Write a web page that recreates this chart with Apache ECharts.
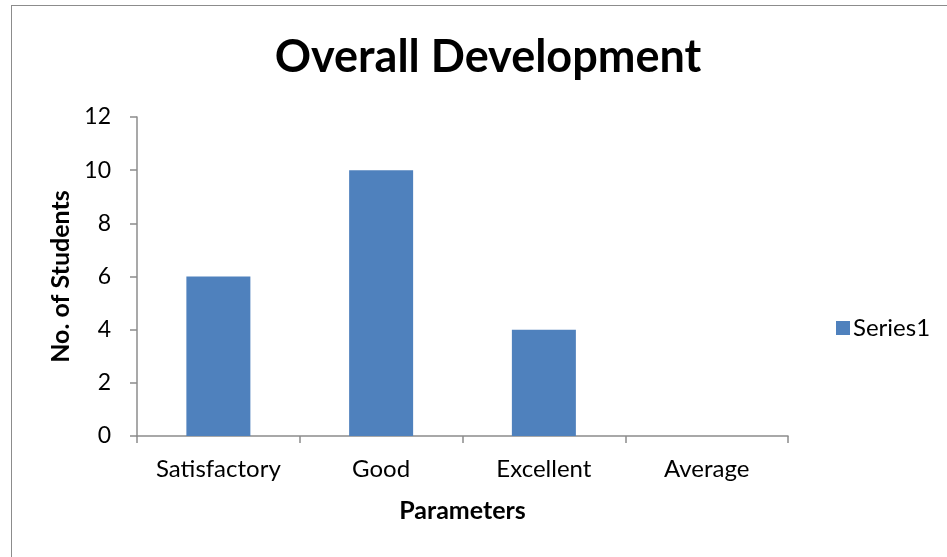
<!DOCTYPE html>
<html>
<head>
<meta charset="utf-8">
<script src="https://cdn.jsdelivr.net/npm/echarts@6/dist/echarts.min.js"></script>
<style>
    html, body { margin: 0; padding: 0; background: #fff; }
    #frame { position: absolute; left: 11px; top: 5px; width: 1000px; height: 600px; border: 1px solid #8c8c8c; box-sizing: border-box; }
    #chart { position: absolute; left: 0; top: 0; width: 947px; height: 557px; }
</style>
</head>
<body>
<div id="frame"></div>
<div id="chart"></div>
<script>
    const categories = ['Satisfactory', 'Good', 'Excellent', 'Average'];
    const series1 = [6, 10, 4, 0];
    const yTicks = { min: 0, max: 12, interval: 2 };

    const font = 'Lato, "Open Sans", sans-serif';

    const option = {
        animation: false,
        title: {
            text: 'Overall Development',
            left: 483,
            textAlign: 'center',
            top: 30,
            textStyle: { fontFamily: font, fontSize: 45, fontWeight: 'bold', color: '#000' }
        },
        legend: {
            data: ['Series1'],
            left: 831,
            top: 311,
            itemWidth: 14,
            itemHeight: 14,
            itemGap: 6,
            icon: 'rect',
            textStyle: { fontFamily: font, fontSize: 24, color: '#000', padding: [0, 0, 0, -2] }
        },
        grid: {
            left: 137,
            right: 159,
            top: 117,
            bottom: 121
        },
        xAxis: {
            type: 'category',
            data: categories,
            name: 'Parameters',
            nameLocation: 'middle',
            nameGap: 62,
            nameTextStyle: { fontFamily: font, fontSize: 25, fontWeight: 'bold', color: '#000' },
            axisLine: { lineStyle: { color: '#8c8c8c', width: 1.5 } },
            axisTick: { show: true, length: 7, alignWithLabel: false, lineStyle: { color: '#8c8c8c', width: 1.5 } },
            axisLabel: { fontFamily: font, fontSize: 24, color: '#000', margin: 21 }
        },
        yAxis: {
            type: 'value',
            min: yTicks.min,
            max: yTicks.max,
            interval: yTicks.interval,
            name: 'No. of Students',
            nameLocation: 'middle',
            nameGap: 62,
            nameTextStyle: { fontFamily: font, fontSize: 25, fontWeight: 'bold', color: '#000' },
            axisLine: { show: true, lineStyle: { color: '#8c8c8c', width: 1.5 } },
            axisTick: { show: true, length: 7, lineStyle: { color: '#8c8c8c', width: 1.5 } },
            axisLabel: { fontFamily: font, fontSize: 23, color: '#000', margin: 26 },
            splitLine: { show: false }
        },
        series: [
            {
                name: 'Series1',
                type: 'bar',
                data: series1,
                barWidth: 64,
                itemStyle: { color: '#4F81BD' }
            }
        ]
    };

    const myChart = echarts.init(document.getElementById('chart'));
    myChart.setOption(option);
</script>
</body>
</html>
